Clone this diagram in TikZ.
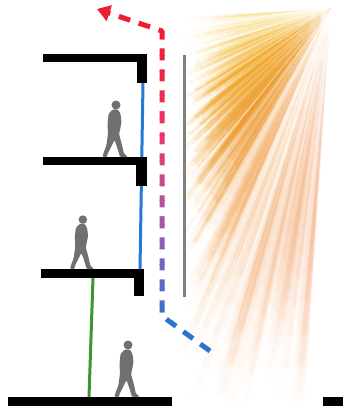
\documentclass[tikz,border=0pt]{standalone}
\usetikzlibrary{calc,arrows.meta}

\definecolor{slabc}{RGB}{0,0,0}
\definecolor{glassc}{RGB}{40,120,210}
\definecolor{stemc}{RGB}{60,150,50}
\definecolor{screenc}{RGB}{128,128,128}
\definecolor{personc}{RGB}{112,112,112}
\definecolor{rayY}{RGB}{244,196,60}
\definecolor{rayO}{RGB}{236,150,40}
\definecolor{rayP}{RGB}{240,140,80}
\definecolor{lightred}{RGB}{238,30,50}
\definecolor{lightblue}{RGB}{45,115,205}

\tikzset{
  slab/.style={fill=slabc},
  glass/.style={draw=glassc, line width=3pt},
  stem/.style={draw=stemc, line width=3pt},
  screen/.style={draw=screenc, line width=3pt},
  lightpath/.style={line width=5pt, dash pattern=on 12pt off 9pt, line join=round,
    -{Triangle[length=13pt,width=16pt]}},
  walker/.pic={
    \fill[personc] (3,-52) circle (4.5);
    \fill[personc, rounded corners=1.2pt]
      (-0.5,-47.5) -- (5,-47.5) -- (7.5,-43) -- (8.5,-35) -- (7,-27) -- (6,-23)
      -- (9,-12) -- (11,-3) -- (14,-1.5) -- (14,0) -- (7,0) -- (4,-10)
      -- (1.5,-17) -- (-2.5,-9) -- (-6,-2) -- (-5.5,0) -- (-10.5,0) -- (-10,-2.5)
      -- (-6.5,-12) -- (-5,-24) -- (-5.5,-33) -- (-4.5,-43) -- cycle;
  }
}

% one ray of sunlight: a thin wedge from (S), split into pieces whose
% opacity rises and falls along its length
\newcommand\sunray[5]{% angle, half width, length, peak opacity, colour
  \foreach \j in {0,...,11}{
    \pgfmathsetmacro\ra{#3*\j/12}
    \pgfmathsetmacro\rb{#3*(\j+1)/12}
    \pgfmathsetmacro\o{#4*sin(180*((\j+0.5)/12)^1.35)}
    \fill[#5, fill opacity=\o]
      ($(S)+(#1-#2:\ra)$) -- ($(S)+(#1+#2:\ra)$) --
      ($(S)+(#1+#2:\rb)$) -- ($(S)+(#1-#2:\rb)$) -- cycle;
  }%
}

\begin{document}
\begin{tikzpicture}[x=1pt,y=-1pt]
\useasboundingbox (0,0) rectangle (343,406);

% ---- sun rays fanning out from the upper right ----
\coordinate (S) at (331,8);
% soft glow underneath the rays
\foreach \a in {96,100,...,172}{
  \pgfmathsetmacro\Lm{min(150/abs(cos(\a)),400/sin(\a))*0.9}
  \pgfmathsetmacro\op{0.04+0.24*exp(-((\a-138)/18)*((\a-138)/18))}
  \pgfmathtruncatemacro\m{max(0,min(100,100-(\a-125)*2.5))}
  \pgfmathtruncatemacro\k{max(0,min(100,(125-\a)*3.3))}
  \ifdim\a pt<125pt
    \colorlet{raycol}{rayP!\k!rayO}
  \else
    \colorlet{raycol}{rayO!\m!rayY}
  \fi
  \sunray{\a}{2}{\Lm}{\op}{raycol}
}
% individual streaks
\pgfmathsetseed{42}
\foreach \i in {1,...,230}{
  \pgfmathsetmacro\a{94+82*rnd}
  \pgfmathsetmacro\w{0.3+0.6*rnd}
  \pgfmathsetmacro\Lm{min(150/abs(cos(\a)),405/sin(\a))}
  \pgfmathsetmacro\L{\Lm*(0.7+0.3*rnd)}
  \pgfmathsetmacro\op{(0.12+0.5*exp(-((\a-138)/19)*((\a-138)/19)))*(0.5+0.5*rnd)}
  \pgfmathtruncatemacro\m{max(0,min(100,100-(\a-125)*2.5))}
  \pgfmathtruncatemacro\k{max(0,min(100,(125-\a)*3.3))}
  \ifdim\a pt<125pt
    \colorlet{raycol}{rayP!\k!rayO}
  \else
    \colorlet{raycol}{rayO!\m!rayY}
  \fi
  \sunray{\a}{\w}{\L}{\op}{raycol}
}

% ---- shading screen ----
\coordinate (scrTop) at (184,55);
\coordinate (scrBot) at (184,297);
\draw[screen] (scrTop) -- (scrBot);

% ---- glazing and column ----
\coordinate (glTop) at (143,83);
\coordinate (glBot) at (140,269);
\draw[glass] (glTop) -- (glBot);
\coordinate (stTop) at (93,278);
\coordinate (stBot) at (89,397);
\draw[stem] (stTop) -- (stBot);

% ---- floor slabs with edge beams ----
\fill[slab] (43,54) rectangle (147,62);
\fill[slab] (137,62) rectangle (147,83);
\fill[slab] (43,157) rectangle (147,165);
\fill[slab] (136,165) rectangle (147,186);
\fill[slab] (41,269) rectangle (144,278);
\fill[slab] (134,278) rectangle (144,296);
\fill[slab] (8,397) rectangle (172,406);
\fill[slab] (323,397) rectangle (343,406);

% ---- occupants ----
\pic at (113,157) {walker};
\pic[scale=0.95] at (80,269) {walker};
\pic at (125,397) {walker};

% ---- reflected light path, red at the top to blue at the bottom ----
\coordinate (dEnd) at (210,351);
\coordinate (dBot) at (162,316);
\coordinate (dTop) at (162,31);
\coordinate (dTip) at (97,9);
\begin{scope}
  \clip (0,-10) rectangle (343,40);
  \draw[lightpath, lightred] (dEnd) -- (dBot) -- (dTop) -- (dTip);
\end{scope}
\foreach \yb in {40,48,...,312}{
  \pgfmathsetmacro\ta{max(0,min(1,(\yb+4-40)/100))}
  \pgfmathsetmacro\tb{max(0,min(1,(\yb+4-140)/70))}
  \pgfmathsetmacro\tc{max(0,min(1,(\yb+4-210)/60))}
  \pgfmathsetmacro\td{max(0,min(1,(\yb+4-270)/50))}
  \pgfmathtruncatemacro\R{238-6*\ta-52*\tb-65*\tc-70*\td}
  \pgfmathtruncatemacro\G{30+25*\ta+30*\tb+15*\tc+15*\td}
  \pgfmathtruncatemacro\B{50+60*\ta+50*\tb+35*\tc+10*\td}
  \definecolor{bandc}{RGB}{\R,\G,\B}
  \begin{scope}
    \clip (0,\yb) rectangle (343,\yb+8);
    \draw[lightpath, bandc] (dEnd) -- (dBot) -- (dTop) -- (dTip);
  \end{scope}
}
\begin{scope}
  \clip (0,320) rectangle (343,410);
  \draw[lightpath, lightblue] (dEnd) -- (dBot) -- (dTop) -- (dTip);
\end{scope}
\end{tikzpicture}
\end{document}
